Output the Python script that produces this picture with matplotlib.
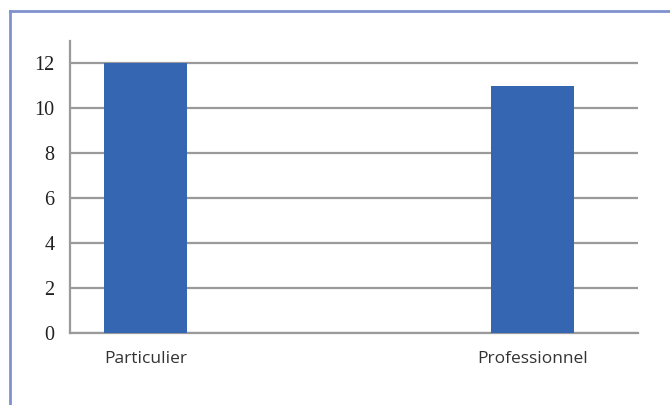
import matplotlib
matplotlib.use('Agg')
import matplotlib.pyplot as plt
from matplotlib.lines import Line2D

# Data
categories = ["Particulier", "Professionnel"]
values = [12, 11]
y_ticks = [0, 2, 4, 6, 8, 10, 12]

BAR_COLOR = '#3466b1'
GRID_COLOR = '#9a9a9a'
FRAME_COLOR = '#7f92cf'

W, H = 670, 405
fig = plt.figure(figsize=(W / 100, H / 100), dpi=100)

# light blue frame: only the top and left edges fall inside the picture
fx, fy = 9.5 / W, 1 - 10.5 / H
fig.add_artist(Line2D([fx, 1], [fy, fy], transform=fig.transFigure,
                      color=FRAME_COLOR, linewidth=2))
fig.add_artist(Line2D([fx, fx], [0, fy], transform=fig.transFigure,
                      color=FRAME_COLOR, linewidth=2))

# axes placed in pixel terms
left, right = 70, 638
base, top = 333, 40.5
ax = fig.add_axes([left / W, (H - base) / H, (right - left) / W, (base - top) / H])

x = list(range(len(categories)))
ax.bar(x, values, width=0.214, color=BAR_COLOR, zorder=3)

ax.set_ylim(0, 13)
ax.set_xlim(-0.195, 1.273)
ax.set_yticks(y_ticks)
ax.set_yticklabels([str(t) for t in y_ticks], family='Liberation Serif',
                   fontsize=14.5, color='#222222')
ax.set_xticks(x)
ax.set_xticklabels(categories, family='Open Sans', fontsize=12.5, color='#333333')
ax.tick_params(axis='both', length=0)
ax.tick_params(axis='y', pad=11)
ax.tick_params(axis='x', pad=13)

ax.grid(axis='y', color=GRID_COLOR, linewidth=1.6, zorder=0)
for side in ['top', 'right']:
    ax.spines[side].set_visible(False)
for side in ['left', 'bottom']:
    ax.spines[side].set_color(GRID_COLOR)
    ax.spines[side].set_linewidth(1.6)

plt.savefig('out.png', dpi=100)
plt.close()
